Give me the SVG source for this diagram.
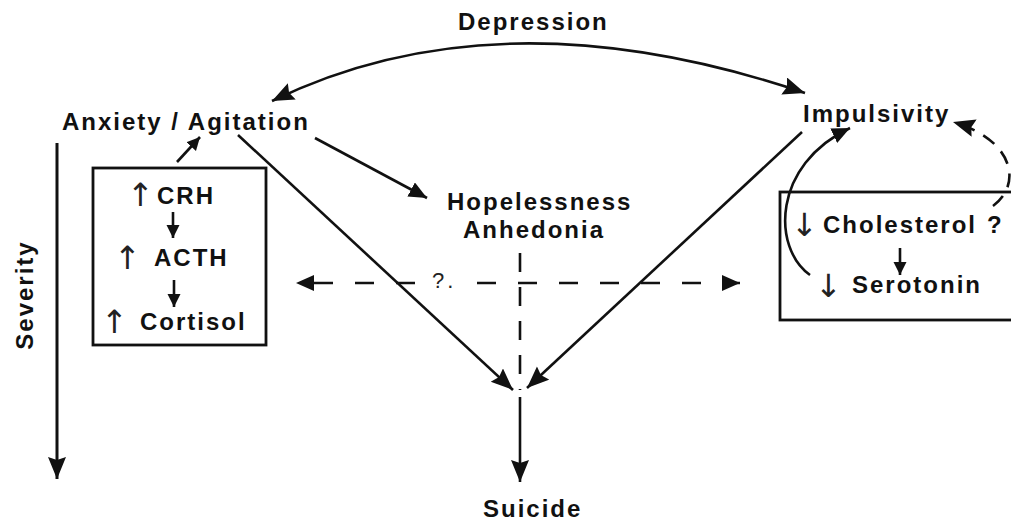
<svg xmlns="http://www.w3.org/2000/svg" width="1011" height="521" viewBox="0 0 1011 521">
  <style>
    .lbl { font-family: "Liberation Sans", Arial, sans-serif; font-weight: bold; font-size: 24px; letter-spacing: 2px; fill: #111; }
    .sym { font-family: "DejaVu Sans", sans-serif; font-weight: normal; font-size: 32px; fill: #222; }
    .q { font-family: "Liberation Sans", Arial, sans-serif; font-size: 22px; fill: #222; letter-spacing: 3px; }
    .ln { fill: none; stroke: #111; stroke-width: 2.6; }
    .dash { fill: none; stroke: #111; stroke-width: 2.6; }
    .box { fill: none; stroke: #111; stroke-width: 2.8; }
  </style>
  <defs>
    <marker id="headL" markerUnits="userSpaceOnUse" markerWidth="24" markerHeight="20" refX="22" refY="9" orient="auto-start-reverse">
      <path d="M0,0 L22,9 L0,18 L3,9 z" fill="#111"/>
    </marker>
    <marker id="headM" markerUnits="userSpaceOnUse" markerWidth="20" markerHeight="18" refX="18" refY="8" orient="auto">
      <path d="M0,0 L18,8 L0,16 z" fill="#111"/>
    </marker>
    <marker id="headS" markerUnits="userSpaceOnUse" markerWidth="14" markerHeight="14" refX="13" refY="6.5" orient="auto">
      <path d="M0,0 L13,6.5 L0,13 z" fill="#111"/>
    </marker>
  </defs>

  <rect width="1011" height="521" fill="#fff"/>

  <!-- severity axis -->
  <g id="severity">
    <line x1="57" y1="143" x2="57" y2="479" stroke="#111" stroke-width="3" marker-end="url(#headL)"/>
    <text class="lbl" transform="translate(33,295) rotate(-90)" text-anchor="middle">Severity</text>
  </g>

  <g id="depression">
    <text class="lbl" x="458" y="30">Depression</text>
  </g>

  <g id="anxiety">
    <text class="lbl" x="62" y="130">Anxiety / Agitation</text>
  </g>

  <g id="impulsivity">
    <text class="lbl" x="803" y="122">Impulsivity</text>
  </g>

  <g id="hopelessness">
    <text class="lbl" x="447" y="210">Hopelessness</text>
    <text class="lbl" x="463" y="238">Anhedonia</text>
  </g>

  <g id="suicide">
    <text class="lbl" x="483" y="517">Suicide</text>
  </g>

  <!-- HPA axis box -->
  <g id="hpa">
    <rect class="box" x="93" y="168" width="173" height="177"/>
    <text class="sym" x="127" y="206" font-size="26">↑</text>
    <text class="lbl" x="157" y="204">CRH</text>
    <line class="ln" x1="173" y1="212" x2="173" y2="238" marker-end="url(#headS)"/>
    <text class="sym" x="114" y="269">↑</text>
    <text class="lbl" x="154" y="266">ACTH</text>
    <line class="ln" x1="174" y1="280" x2="174" y2="307" marker-end="url(#headS)"/>
    <text class="sym" x="101" y="333">↑</text>
    <text class="lbl" x="140" y="330">Cortisol</text>
  </g>

  <!-- serotonin box -->
  <g id="serotonin">
    <rect class="box" x="780" y="192" width="250" height="128"/>
    <text class="sym" x="791" y="236" font-size="28">↓</text>
    <text class="lbl" x="823" y="233">Cholesterol<tspan x="987">?</tspan></text>
    <line class="ln" x1="900" y1="248" x2="900" y2="275" marker-end="url(#headS)"/>
    <text class="sym" x="815" y="297">↓</text>
    <text class="lbl" x="852" y="293">Serotonin</text>
  </g>

  <g id="connectors">
    <!-- depression arc, double headed -->
    <path class="ln" d="M 272 101 Q 500 -10 805 93" marker-start="url(#headL)" marker-end="url(#headL)"/>
    <!-- anxiety -> hopelessness -->
    <line class="ln" x1="315" y1="138" x2="427" y2="198" marker-end="url(#headM)"/>
    <!-- HPA box -> anxiety -->
    <line class="ln" x1="177" y1="162" x2="200" y2="137" marker-end="url(#headS)"/>
    <!-- anxiety -> suicide -->
    <line class="ln" x1="238" y1="135" x2="513" y2="390" marker-end="url(#headL)"/>
    <!-- impulsivity -> suicide -->
    <line class="ln" x1="802" y1="132" x2="527" y2="388" marker-end="url(#headL)"/>
    <!-- hopelessness -> suicide, dashed -->
    <line class="dash" x1="520" y1="253" x2="520" y2="390" stroke-dasharray="19 15"/>
    <line class="ln" x1="520" y1="397" x2="520" y2="482" stroke-width="3" marker-end="url(#headL)"/>
    <!-- HPA <-> serotonin, dashed -->
    <path class="dash" d="M 415 283 L 296 283" stroke-dasharray="19 22" marker-end="url(#headM)"/>
    <path class="dash" d="M 477 283 L 740 283" stroke-dasharray="19 22" marker-end="url(#headM)"/>
    <text class="q" x="432" y="288">?.</text>
    <!-- serotonin -> impulsivity -->
    <path class="ln" d="M 810 275 C 772 248, 772 165, 850 128" marker-end="url(#headM)"/>
    <!-- cholesterol -> impulsivity, dashed -->
    <path class="dash" d="M 993 206 C 1022 185, 1015 140, 953 122" stroke-dasharray="14 10" marker-end="url(#headL)"/>
  </g>
</svg>
